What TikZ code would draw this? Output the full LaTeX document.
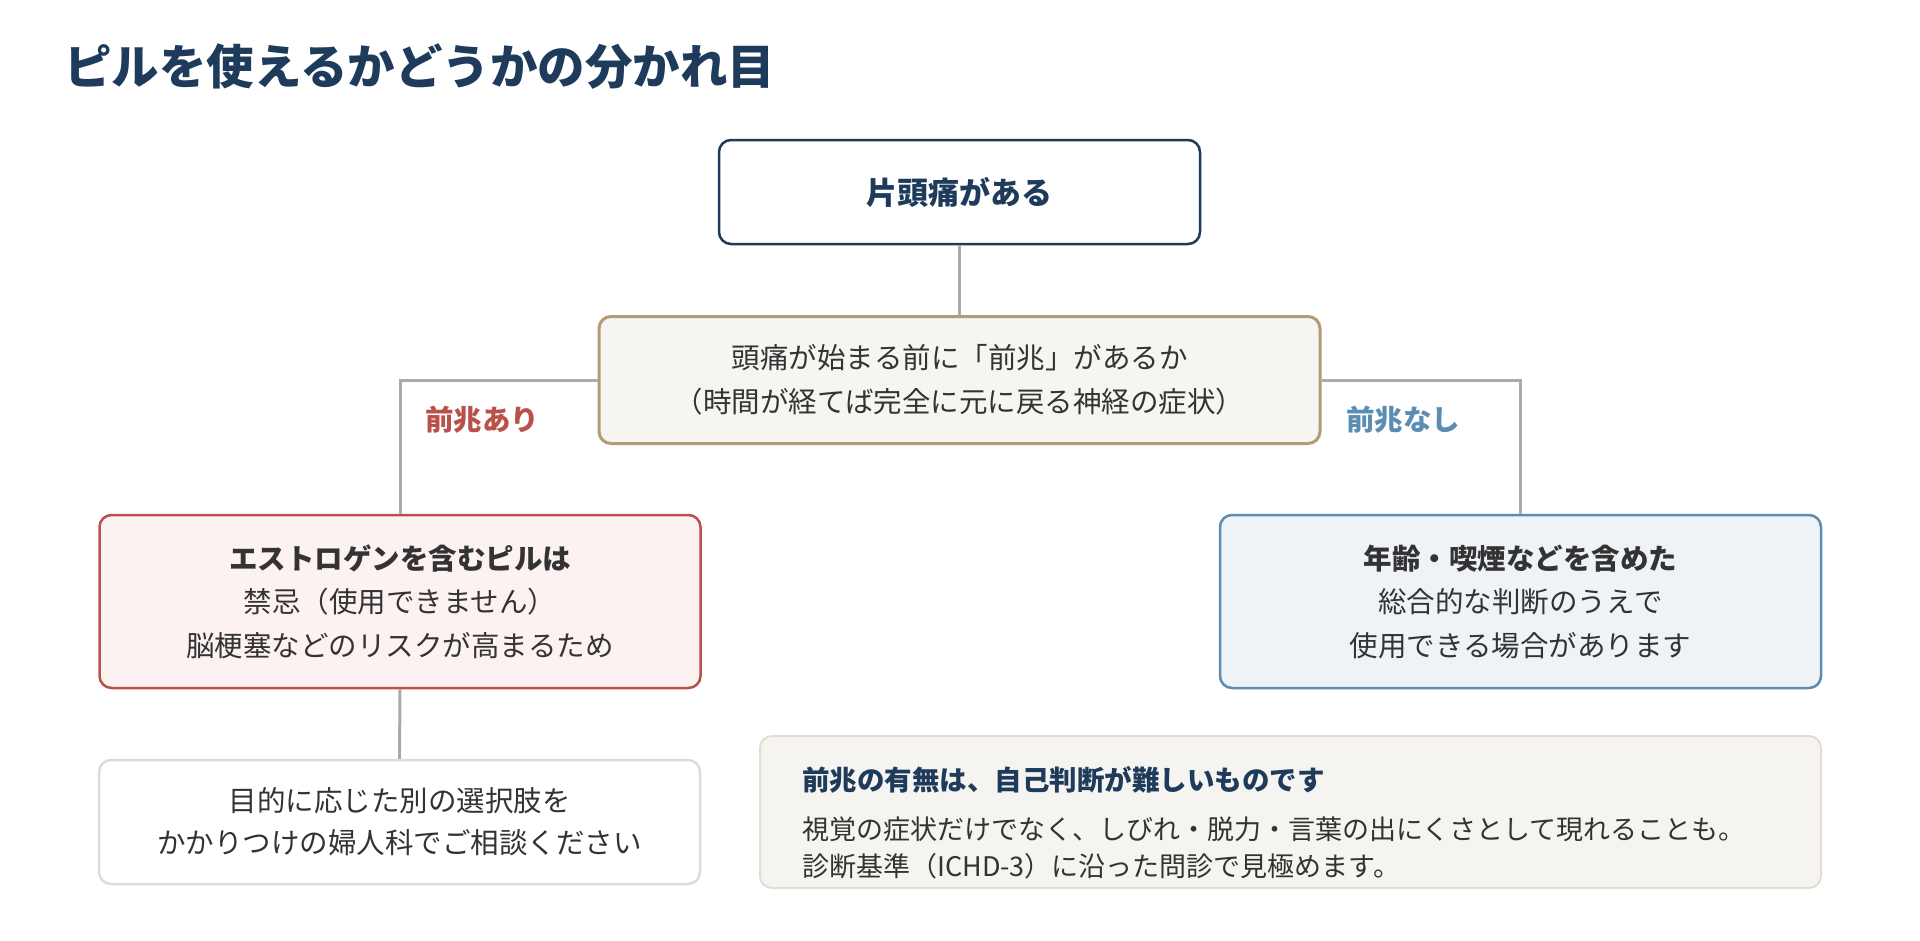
\documentclass[tikz,border=0pt]{standalone}
\usepackage{fontspec}
\setmainfont{Noto Sans CJK JP}
\definecolor{navy}{HTML}{1F3B5B}
\definecolor{txt}{HTML}{333333}
\definecolor{conncol}{HTML}{AAAAAA}
\definecolor{redc}{HTML}{B9514A}
\definecolor{bluec}{HTML}{5B8DB3}
\definecolor{tanc}{HTML}{B39B76}
\definecolor{beige}{HTML}{F6F5F1}
\definecolor{redfill}{HTML}{FCF2F1}
\definecolor{bluefill}{HTML}{EFF3F8}
\definecolor{graybord}{HTML}{DCDCDC}
\definecolor{notefill}{HTML}{F6F4F0}
\definecolor{notebord}{HTML}{E3DDD2}
\begin{document}
\begin{tikzpicture}[x=1pt,y=-1pt,
  box/.style={rounded corners=12pt, line width=2.5pt, align=center, inner sep=0pt, text=txt,
    font=\fontsize{28.5}{43.5}\selectfont},
  conn/.style={draw=conncol, line width=3pt},
  lbl/.style={inner sep=0pt, font=\fontsize{28.5}{34}\selectfont\bfseries},
  noteline/.style={anchor=west, inner sep=0pt, text=txt, font=\fontsize{27}{32}\selectfont}
]
\useasboundingbox[fill=white] (0,0) rectangle (1920,940);

\node[anchor=west, inner sep=0pt, text=navy, font=\fontsize{47.5}{56}\selectfont\bfseries] (title) at (64,67) {ピルを使えるかどうかの分かれ目};

\node[box, draw=navy, fill=white, minimum width=481pt, minimum height=104pt, text=navy,
  font=\fontsize{31}{38}\selectfont\bfseries] (top) at (959.5,192) {片頭痛がある};

\node[box, draw=tanc, fill=beige, minimum width=721pt, minimum height=127pt, line width=3pt] (mid) at (959.5,380)
  {頭痛が始まる前に「前兆」があるか\\（時間が経てば完全に元に戻る神経の症状）};

\node[box, draw=redc, fill=redfill, minimum width=601pt, minimum height=173pt] (red) at (400,601.5)
  {{\bfseries エストロゲンを含むピルは}\\禁忌（使用できません）\\脳梗塞などのリスクが高まるため};

\node[box, draw=bluec, fill=bluefill, minimum width=601pt, minimum height=173pt] (blue) at (1520.5,601.5)
  {{\bfseries 年齢・喫煙などを含めた}\\総合的な判断のうえで\\使用できる場合があります};

\node[box, draw=graybord, fill=white, minimum width=601pt, minimum height=124pt, font=\fontsize{28.5}{42}\selectfont] (alt) at (399.5,822)
  {目的に応じた別の選択肢を\\かかりつけの婦人科でご相談ください};

\node[rounded corners=12pt, line width=2pt, draw=notebord, fill=notefill, minimum width=1061pt, minimum height=152pt, inner sep=0pt] (note) at (1290.5,812) {};
\node[noteline, text=navy, font=\fontsize{27.5}{32}\selectfont\bfseries] (n1) at (802,780) {前兆の有無は、自己判断が難しいものです};
\node[noteline] (n2) at (802,829) {視覚の症状だけでなく、しびれ・脱力・言葉の出にくさとして現れることも。};
\node[noteline] (n3) at (802,866) {診断基準（ICHD-3）に沿った問診で見極めます。};

\draw[conn] (top.south) -- (mid.north);
\draw[conn] (mid.west) -| (red.north);
\draw[conn] (mid.east) -| (blue.north);
\draw[conn] (red.south) -- (alt.north);

\node[lbl, text=redc] (yes) at (482,420) {前兆あり};
\node[lbl, text=bluec] (no) at (1403,420) {前兆なし};
\end{tikzpicture}
\end{document}
